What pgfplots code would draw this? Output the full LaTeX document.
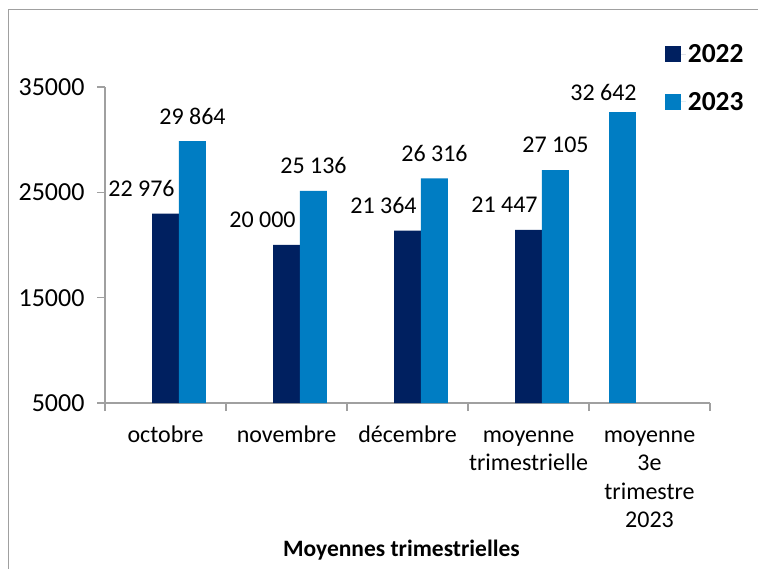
\documentclass[border=0pt]{standalone}
\usepackage{fontspec}
\setmainfont{Carlito}
\usepackage{pgfplots}
\pgfplotsset{compat=1.18}
\definecolor{c22}{RGB}{0,32,96}
\definecolor{c23}{RGB}{0,125,195}
\definecolor{axgray}{RGB}{160,160,160}
\begin{document}
\begin{tikzpicture}
\useasboundingbox (0pt,0pt) rectangle (758pt,568pt);
\draw[axgray, line width=1pt] (8pt,-2pt) -- (8pt,558pt) -- (760pt,558pt);
\begin{axis}[
  at={(105pt,165pt)}, anchor=south west,
  scale only axis, width=605pt, height=316pt,
  xmin=-0.5, xmax=4.5, ymin=5000, ymax=35000,
  scaled y ticks=false,
  axis lines*=left,
  axis line style={axgray, line width=1.2pt},
  tick align=outside,
  major tick length=8pt, minor tick length=8pt,
  tick style={axgray, line width=1.2pt},
  major x tick style={draw=none},
  ytick={5000,15000,25000,35000},
  yticklabels={5000,15000,25000,35000},
  xtick={0,1,2,3,4},
  minor xtick={-0.5,0.5,1.5,2.5,3.5,4.5},
  xticklabels={\strut octobre,\strut novembre,\strut décembre,{\strut moyenne\\trimestrielle},{\strut moyenne\\3e\\trimestre\\2023}},
  xticklabel style={align=center, font=\fontsize{24}{28.5}\selectfont, yshift=-8pt},
  yticklabel style={font=\fontsize{26}{30}\selectfont, xshift=-9pt},
  xlabel={\textbf{Moyennes trimestrielles}},
  xlabel style={at={(axis description cs:0.49,0)}, anchor=center, yshift=-147pt, font=\fontsize{23.5}{28.5}\selectfont},
  ybar, bar width=0.223,
  point meta=explicit symbolic,
  legend style={at={(axis description cs:0.925,1.141)}, anchor=north west, draw=none, fill=none,
    font=\fontsize{27.5}{30}\selectfont\bfseries, row sep=24pt, inner sep=0pt,
    /tikz/every even column/.append style={column sep=0pt}},
  legend cell align=left,
  legend image code/.code={\fill[#1] (0pt,-8pt) rectangle (16pt,8pt); \path (0pt,0pt) -- (21pt,0pt);},
]
\addplot[fill=c22, draw=none, bar shift=0,
  nodes near coords,
  every node near coord/.append style={anchor=center, xshift=-24pt, yshift=25pt, black, font=\fontsize{24}{28}\selectfont}]
  coordinates {(0,22976)[22 976] (1,20000)[20 000] (2,21364)[21 364] (3,21447)[21 447]};
\addlegendentry{2022}
\addplot[fill=c23, draw=none, bar shift=0.223,
  nodes near coords,
  every node near coord/.append style={anchor=center, yshift=25pt, black, font=\fontsize{24}{28}\selectfont}]
  coordinates {(0,29864)[29 864] (1,25136)[25 136] (2,26316)[26 316] (3,27105)[27 105]};
\addlegendentry{2023}
\addplot[fill=c23, draw=none, bar shift=-0.223, forget plot,
  nodes near coords,
  every node near coord/.append style={anchor=center, xshift=-19pt, yshift=19pt, black, font=\fontsize{24}{28}\selectfont}]
  coordinates {(4,32642)[32 642]};
\end{axis}
\end{tikzpicture}
\end{document}
